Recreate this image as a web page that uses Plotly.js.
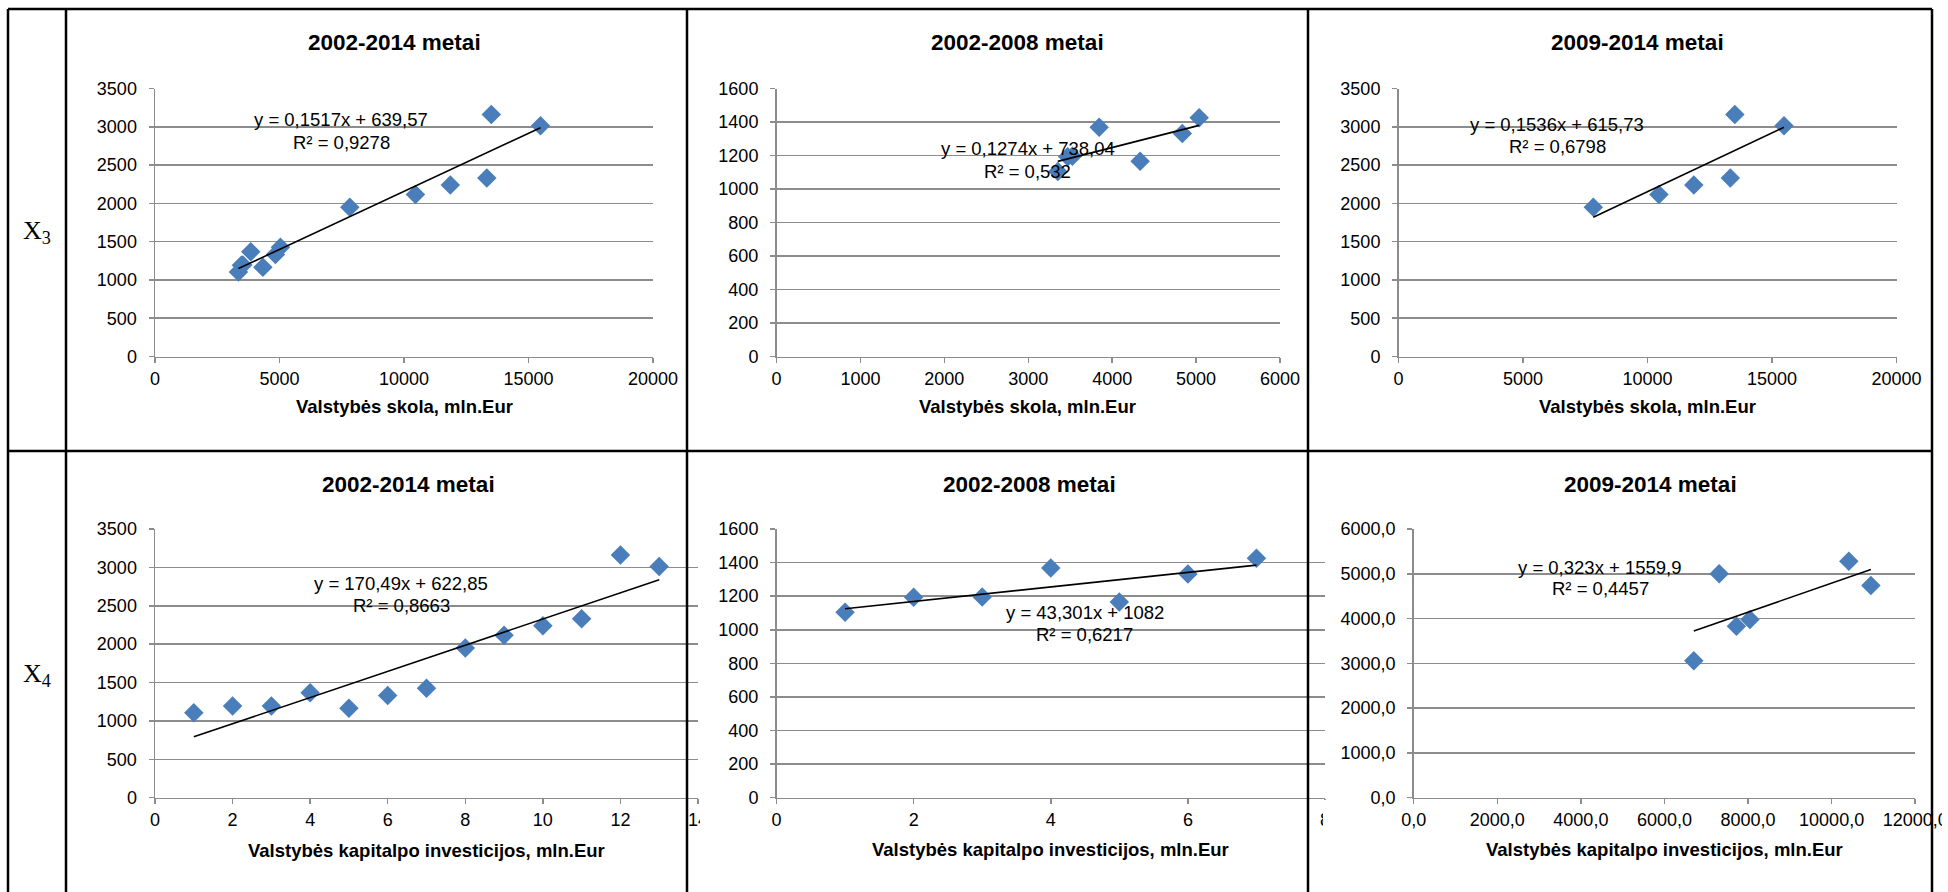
<!DOCTYPE html>
<html><head><meta charset="utf-8">
<script src="https://cdn.plot.ly/plotly-3.0.1.min.js"></script>
<style>html,body{margin:0;padding:0;background:#fff;overflow:hidden;} #chart{width:1948px;height:892px;}</style>
</head><body><div id="chart"></div>
<script>
// ---------------- DATA ----------------
const outcomeAll = [1105, 1193, 1195, 1368, 1165, 1332, 1426, 1950, 2116, 2241, 2330, 3160, 3012];
const debtAll = [3352, 3470, 3526, 3845, 4333, 4836, 5037, 7823, 10459, 11859, 13325, 13506, 15482];
const investIndexAll = [1, 2, 3, 4, 5, 6, 7, 8, 9, 10, 11, 12, 13];
const invest2009_2014 = [6702, 7310, 7722, 8046, 10411, 10940];
const outcome2009_2014F = [3056, 5003, 3827, 3977, 5280, 4741];

const panelTitles = ["2002-2014 metai", "2002-2008 metai", "2009-2014 metai",
                     "2002-2014 metai", "2002-2008 metai", "2009-2014 metai"];
const xTitleDebt = "Valstybės skola, mln.Eur";
const xTitleInvest = "Valstybės kapitalpo investicijos, mln.Eur";
const trendSlope = [0.1517, 0.1274, 0.1536, 170.49, 43.301, 0.323];
const trendIntercept = [639.57, 738.04, 615.73, 622.85, 1082, 1559.9];
const eqLabels = ["y = 0,1517x + 639,57", "y = 0,1274x + 738,04", "y = 0,1536x + 615,73",
                  "y = 170,49x + 622,85", "y = 43,301x + 1082", "y = 0,323x + 1559,9"];
const r2Labels = ["R² = 0,9278", "R² = 0,532", "R² = 0,6798", "R² = 0,8663", "R² = 0,6217", "R² = 0,4457"];
const rowLabels = ["X<sub>3</sub>", "X<sub>4</sub>"];

// ---------------- PANELS ----------------
const panelX = [debtAll, debtAll.slice(0, 7), debtAll.slice(7), investIndexAll, investIndexAll.slice(0, 7), invest2009_2014];
const panelY = [outcomeAll, outcomeAll.slice(0, 7), outcomeAll.slice(7), outcomeAll, outcomeAll.slice(0, 7), outcome2009_2014F];
const panelXTitle = [xTitleDebt, xTitleDebt, xTitleDebt, xTitleInvest, xTitleInvest, xTitleInvest];

const W = 1948, H = 892;
const px = v => v / W, py = v => 1 - v / H;

const geom = [
  {x0:155,   x1:653,    yt:88.5, yb:356.5, xr:[0,20000], xd:5000, yr:[0,3500], yd:500, fmt:"d",   t:[394,43],    xt:[404,407],    eq:[341,120],    r2:[341,142]},
  {x0:776.5, x1:1280,   yt:88.5, yb:356.5, xr:[0,6000],  xd:1000, yr:[0,1600], yd:200, fmt:"d",   t:[1017,43],   xt:[1027.5,407], eq:[1027.5,149], r2:[1027.5,171]},
  {x0:1398.5,x1:1896.5, yt:88.5, yb:356.5, xr:[0,20000], xd:5000, yr:[0,3500], yd:500, fmt:"d",   t:[1637,43],   xt:[1647,407],   eq:[1557,124.5], r2:[1557,146.5]},
  {x0:155,   x1:698,    yt:529,  yb:797.7, xr:[0,14],    xd:2,    yr:[0,3500], yd:500, fmt:"d",   t:[408,485],   xt:[426,850],    eq:[401,583.5],  r2:[401,605.5]},
  {x0:776.5, x1:1325,   yt:529,  yb:797.7, xr:[0,8],     xd:2,    yr:[0,1600], yd:200, fmt:"d",   t:[1029.5,485],xt:[1050,849],   eq:[1084.5,612.5],r2:[1084.5,634.5]},
  {x0:1413.7,x1:1915.2, yt:529,  yb:797.7, xr:[0,12000], xd:2000, yr:[0,6000], yd:1000,fmt:".1f", t:[1650.7,485],xt:[1664.6,849], eq:[1600,567],   r2:[1600,588.5]}
];

const FONT = "Liberation Sans, Arial, sans-serif";
const GRID = "#8c8c8c";
const traces = [];
const layout = {
  width: W, height: H,
  margin: {l:0, r:0, t:0, b:0},
  paper_bgcolor: "#ffffff", plot_bgcolor: "rgba(0,0,0,0)",
  showlegend: false,
  separators: ",.",
  font: {family: FONT, size: 18, color: "#000"},
  annotations: [], shapes: []
};

geom.forEach((g, i) => {
  const sfx = i === 0 ? "" : String(i + 1);
  const xa = "x" + sfx, ya = "y" + sfx;
  const xs = panelX[i], ys = panelY[i];
  traces.push({
    type: "scatter", mode: "markers", x: xs, y: ys, xaxis: xa, yaxis: ya,
    marker: {symbol: "diamond", size: 15, color: "#4A7EBB", line: {width: 0}},
    cliponaxis: false, hoverinfo: "skip"
  });
  const xmin = Math.min(...xs), xmax = Math.max(...xs);
  traces.push({
    type: "scatter", mode: "lines", x: [xmin, xmax],
    y: [trendSlope[i] * xmin + trendIntercept[i], trendSlope[i] * xmax + trendIntercept[i]],
    xaxis: xa, yaxis: ya, line: {color: "#000", width: 1.6}, hoverinfo: "skip"
  });
  layout["xaxis" + sfx] = {
    domain: [px(g.x0), px(g.x1)], anchor: ya, range: g.xr, dtick: g.xd, tick0: 0,
    tickformat: g.fmt, exponentformat: "none", showgrid: false, zeroline: false,
    showline: true, linecolor: GRID, linewidth: 1.5,
    ticks: "outside", ticklen: 5, tickwidth: 1.5, tickcolor: GRID,
    tickfont: {family: FONT, size: 18, color: "#000"}, ticklabelstandoff: 0, fixedrange: true
  };
  layout["yaxis" + sfx] = {
    domain: [py(g.yb), py(g.yt)], anchor: xa, range: g.yr, dtick: g.yd, tick0: 0,
    tickformat: g.fmt, exponentformat: "none", showgrid: true, gridcolor: GRID, gridwidth: 1.5,
    zeroline: false, showline: true, linecolor: GRID, linewidth: 1.5,
    ticks: "outside", ticklen: 5, tickwidth: 1.5, tickcolor: GRID,
    tickfont: {family: FONT, size: 18, color: "#000"}, ticklabelstandoff: 8, fixedrange: true
  };
  const ann = (pos, text, size, bold) => layout.annotations.push({
    xref: "paper", yref: "paper", x: px(pos[0]), y: py(pos[1]), xanchor: "center", yanchor: "middle",
    text: bold ? "<b>" + text + "</b>" : text, showarrow: false,
    font: {family: FONT, size: size, color: "#000"}
  });
  ann(g.t, panelTitles[i], 22.5, true);
  ann(g.xt, panelXTitle[i], 18.5, true);
  ann(g.eq, eqLabels[i], 18.5, false);
  ann(g.r2, r2Labels[i], 18.5, false);
});

// row labels
[[37, 232], [37, 675]].forEach((p, i) => layout.annotations.push({
  xref: "paper", yref: "paper", x: px(p[0]), y: py(p[1]), xanchor: "center", yanchor: "middle",
  text: rowLabels[i], showarrow: false,
  font: {family: "Liberation Serif, Times New Roman, serif", size: 26, color: "#000"}
}));

// white covers (neighbouring cell images overlapping clipped content)
const cover = (x0, y0, x1, y1) => layout.shapes.push({
  type: "rect", xref: "paper", yref: "paper", layer: "above",
  x0: px(x0), x1: px(x1), y0: py(y1), y1: py(y0), fillcolor: "#fff", line: {width: 0}
});
cover(700, 800, 718, 840);
cover(1323, 800, 1342, 840);
cover(1942, 0, 1948, 892);

// table borders
const line = (x0, y0, x1, y1) => layout.shapes.push({
  type: "line", xref: "paper", yref: "paper", layer: "above",
  x0: px(x0), x1: px(x1), y0: py(y0), y1: py(y1), line: {color: "#000", width: 2.5}
});
line(8, 9, 1932, 9);
line(8, 451, 1932, 451);
[8, 66, 687, 1308, 1932].forEach(x => line(x, 9, x, 892));

Plotly.newPlot("chart", traces, layout, {staticPlot: true, displayModeBar: false});
</script>
</body></html>
